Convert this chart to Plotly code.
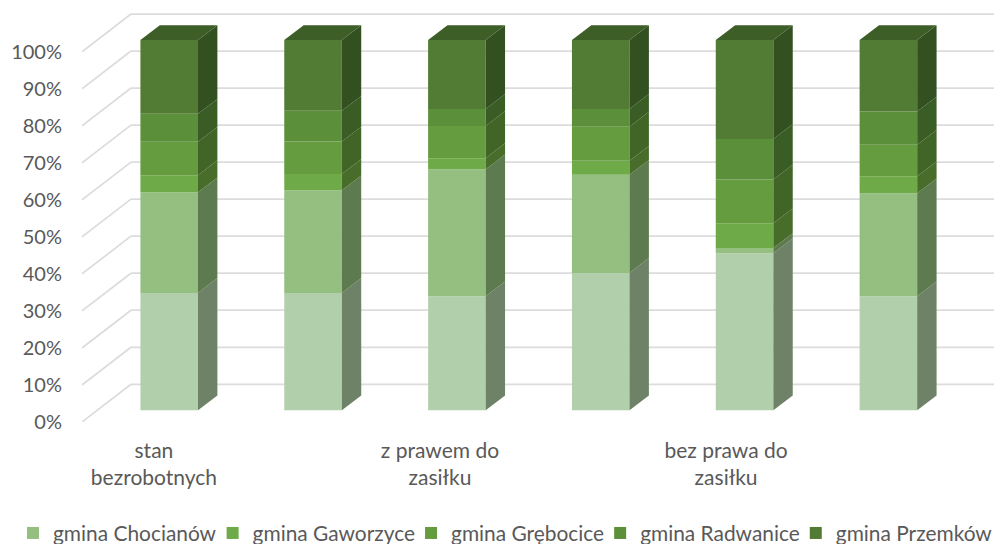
import plotly.graph_objects as go

categories = ["stan<br>bezrobotnych", "", "z prawem do<br>zasiłku", "", "bez prawa do<br>zasiłku", ""]
percent_ticks = list(range(0, 101, 10))

unnamed_base = [31.7, 31.7, 30.8, 37.1, 42.4, 30.8]
chocianow = [27.2, 27.7, 34.3, 26.5, 1.4, 27.8]
gaworzyce = [4.6, 4.4, 3.0, 3.8, 6.7, 4.6]
grebocice = [9.0, 8.8, 8.7, 9.2, 11.8, 8.5]
radwanice = [7.6, 8.3, 4.6, 4.8, 11.0, 9.0]
przemkow = [19.9, 19.1, 18.6, 18.6, 26.7, 19.3]

series_names = ["", "gmina Chocianów", "gmina Gaworzyce", "gmina Grębocice", "gmina Radwanice", "gmina Przemków"]
series_values = [unnamed_base, chocianow, gaworzyce, grebocice, radwanice, przemkow]
front_colors = ["#B2CFAB", "#95BF80", "#6FAA48", "#659C3F", "#5B8F3A", "#527C33"]
side_colors = ["#6E8268", "#5E7B4F", "#486C2A", "#416526", "#395D24", "#325020"]
top_color = "#3D5E27"

UX = 143.9          # px per category
UY = 3.7            # px per percent
X0 = -0.5
XMAX = 5.5 + 49 / UX
YMAX = 111
WALL_DX, WALL_DY = 49 / UX, 37.7 / UY
BAR_DX, BAR_DY = 15.3 / UX, 11.7 / UY
DEPTH_DX, DEPTH_DY = 19.4 / UX, 14.8 / UY
BAR_W = 57.6 / UX
LABEL_STEP = 143.1 / UX

fig = go.Figure()
xs = [i + BAR_DX for i in range(len(categories))]

# back wall / floor gridlines
for v in percent_ticks:
    for x0, y0, x1, y1 in [(X0, v, X0 + WALL_DX, v + WALL_DY), (X0 + WALL_DX, v + WALL_DY, XMAX, v + WALL_DY)]:
        fig.add_shape(type="line", x0=x0, y0=y0, x1=x1, y1=y1, layer="below",
                      line=dict(color="#DCDCDC", width=1.75))

# front faces
running = [0.0] * len(categories)
bases = []
for name, vals, col in zip(series_names, series_values, front_colors):
    bases.append(list(running))
    fig.add_trace(go.Bar(x=xs, y=vals, base=[b + BAR_DY for b in running], width=BAR_W,
                         name=name, showlegend=bool(name), marker=dict(color=col, line=dict(width=0)),
                         hoverinfo="skip"))
    running = [b + v for b, v in zip(running, vals)]

# side faces
for vals, base, col in zip(series_values, bases, side_colors):
    px, py = [], []
    for x, v, b in zip(xs, vals, base):
        r = x + BAR_W / 2
        lo, hi = b + BAR_DY, b + v + BAR_DY
        px += [r, r + DEPTH_DX, r + DEPTH_DX, r, r, None]
        py += [lo, lo + DEPTH_DY, hi + DEPTH_DY, hi, lo, None]
    fig.add_trace(go.Scatter(x=px, y=py, mode="lines", fill="toself", fillcolor=col,
                             line=dict(width=0, color=col), showlegend=False, hoverinfo="skip"))

# top faces
px, py = [], []
for x, top in zip(xs, running):
    l, r, t = x - BAR_W / 2, x + BAR_W / 2, top + BAR_DY
    px += [l, r, r + DEPTH_DX, l + DEPTH_DX, l, None]
    py += [t, t, t + DEPTH_DY, t + DEPTH_DY, t, None]
fig.add_trace(go.Scatter(x=px, y=py, mode="lines", fill="toself", fillcolor=top_color,
                         line=dict(width=0, color=top_color), showlegend=False, hoverinfo="skip"))

family = "Lato, Carlito, sans-serif"
fig.update_layout(
    width=994, height=544, barmode="overlay", plot_bgcolor="white", paper_bgcolor="white",
    margin=dict(l=0, r=0, t=11, b=122.3, autoexpand=False),
    font=dict(family=family, size=20, color="#595959"),
    xaxis=dict(domain=[82 / 994, 1], range=[X0, XMAX], tickmode="array",
               tickvals=[i * LABEL_STEP for i in range(6)], ticktext=categories,
               showgrid=False, zeroline=False, showline=False, ticks="", tickangle=0, ticklabelstandoff=14,
               tickfont=dict(family=family, size=21, color="#595959")),
    yaxis=dict(range=[0, YMAX], tickmode="array", tickvals=percent_ticks,
               ticktext=[f"{v}%" for v in percent_ticks], showgrid=False, zeroline=False,
               showline=False, ticks="", ticklabelstandoff=19,
               tickfont=dict(family=family, size=20, color="#595959")),
    legend=dict(orientation="h", x=22 / 994, xref="container", xanchor="left",
                y=-0.271, yref="paper", yanchor="middle", indentation=-9,
                traceorder="normal", font=dict(family=family, size=20.9, color="#595959")),
)
fig.write_html(
    "out.html",
    config={"displayModeBar": False},
    post_script="document.body.style.margin='0';",
)
